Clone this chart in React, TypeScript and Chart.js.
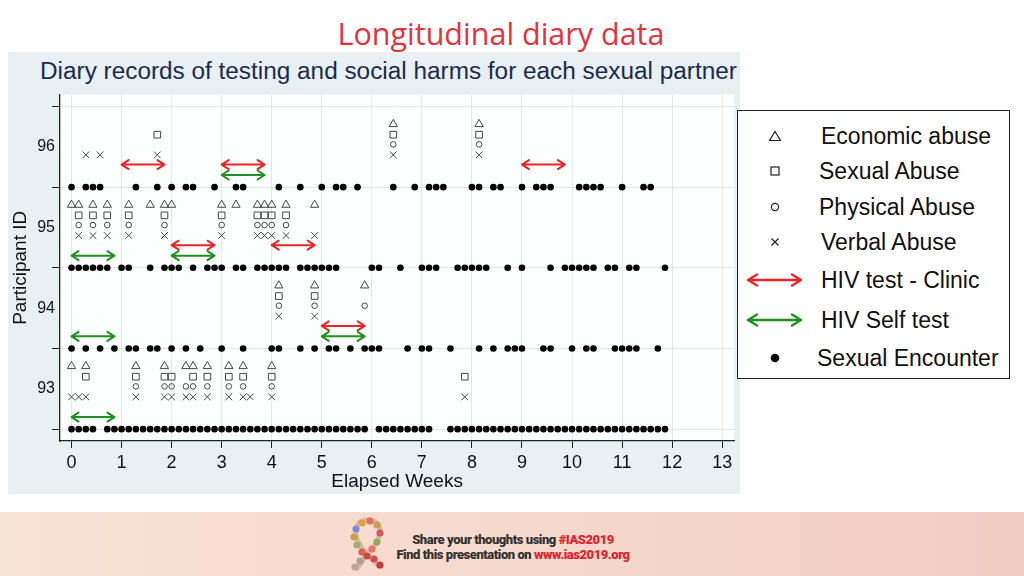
import React, { useEffect, useRef } from 'react';
import { Chart, registerables } from 'chart.js';

Chart.register(...registerables);

// ---------- DATA (days since enrolment; the x axis shows weeks) ----------
const DAYS_PER_WEEK = 7;
const weekTicks = [0, 1, 2, 3, 4, 5, 6, 7, 8, 9, 10, 11, 12, 13];
const participantTicks = [92.5, 93, 93.5, 94, 94.5, 95, 95.5, 96, 96.5];
const participantLabels = ['93', '94', '95', '96'];

// Sexual encounters per participant (day numbers)
const encounters93 = [
  0, 1, 2, 3, 5, 6, 7, 8, 9, 10, 11, 12, 13, 14, 15, 16, 17, 18, 19, 20, 21, 22, 23, 24, 25,
  26, 27, 28, 29, 30, 31, 32, 33, 34, 35, 36, 37, 38, 39, 40, 41, 43, 44, 45, 46, 47, 48, 49,
  50, 53, 54, 55, 56, 57, 58, 59, 60, 61, 62, 63, 64, 65, 66, 67, 68, 69, 70, 71, 72, 73, 74,
  75, 76, 77, 78, 79, 80, 81, 82, 83,
];
const encounters94 = [
  0, 2, 4, 6, 8, 9, 11, 12, 14, 16, 18, 21, 24, 28, 29, 32, 34, 36, 37, 39, 41, 42, 43, 47, 49,
  50, 53, 57, 59, 61, 62, 63, 66, 67, 70, 72, 73, 76, 77, 78, 79, 82,
];
const encounters95 = [
  0, 1, 2, 3, 4, 5, 7, 8, 11, 13, 14, 15, 17, 19, 20, 21, 23, 24, 26, 27, 28, 29, 30, 32, 33,
  34, 35, 36, 37, 42, 43, 46, 49, 50, 51, 54, 55, 56, 57, 58, 61, 63, 67, 69, 70, 71, 72, 73,
  75, 76, 78, 79, 83,
];
const encounters96 = [
  0, 2, 3, 4, 9, 12, 14, 16, 17, 20, 23, 24, 29, 32, 35, 37, 38, 40, 45, 48, 50, 51, 52, 56, 57,
  59, 60, 63, 65, 66, 67, 71, 72, 73, 74, 77, 80, 81,
];

// Social harms: [participant, days]
const economicAbuse: [number, number[]][] = [
  [93, [0, 2, 9, 13, 16, 17, 19, 22, 24, 28]],
  [94, [29, 34, 41]],
  [95, [0, 1, 3, 5, 8, 11, 13, 14, 21, 23, 26, 27, 28, 30, 34]],
  [96, [45, 57]],
];
const sexualAbuse: [number, number[]][] = [
  [93, [2, 9, 13, 14, 17, 19, 22, 24, 28, 55]],
  [94, [29, 34]],
  [95, [1, 3, 5, 8, 13, 21, 26, 27, 28, 30]],
  [96, [12, 45, 57]],
];
const physicalAbuse: [number, number[]][] = [
  [93, [9, 13, 14, 16, 17, 19, 22, 24, 28]],
  [94, [29, 34, 41]],
  [95, [1, 3, 5, 8, 13, 21, 26, 27, 28, 30]],
  [96, [45, 57]],
];
const verbalAbuse: [number, number[]][] = [
  [93, [0, 1, 2, 9, 13, 14, 16, 17, 19, 22, 24, 25, 28, 55]],
  [94, [29, 34]],
  [95, [1, 3, 5, 8, 13, 21, 26, 27, 28, 30, 34]],
  [96, [2, 4, 12, 45, 57]],
];

// HIV testing windows: [participant, startDay, endDay]
const clinicTests: [number, number, number][] = [
  [96, 7, 13],
  [96, 21, 27],
  [96, 63, 69],
  [95, 14, 20],
  [95, 28, 34],
  [94, 35, 41],
];
const selfTests: [number, number, number][] = [
  [96, 21, 27],
  [95, 0, 6],
  [95, 14, 20],
  [94, 0, 6],
  [94, 35, 41],
  [93, 0, 6],
];

// ---------- STYLE ----------
const FONT = '"Liberation Sans", Arial, "DejaVu Sans", sans-serif';
const RED = '#e8262a';
const GREEN = '#1f8f22';
const MARK = '#474747';

const harmPoints = (rows: [number, number[]][], offset: number) =>
  rows.flatMap(([id, days]) => days.map((d) => ({ x: d / DAYS_PER_WEEK, y: id + offset })));

const encounterPoints = (id: number, days: number[]) =>
  days.map((d) => ({ x: d / DAYS_PER_WEEK, y: id - 0.5 }));

const arrowPlugin = {
  id: 'testArrows',
  beforeDraw(chart: any) {
    const { ctx, chartArea } = chart;
    ctx.save();
    ctx.fillStyle = '#fdfefe';
    ctx.fillRect(chartArea.left, chartArea.top, chartArea.right - chartArea.left, chartArea.bottom - chartArea.top);
    ctx.restore();
  },
  afterDatasetsDraw(chart: any) {
    const { ctx } = chart;
    const xs = chart.scales.x;
    const ys = chart.scales.y;
    const draw = (rows: [number, number, number][], offset: number, color: string) => {
      rows.forEach(([id, s, e]) => {
        const x0 = xs.getPixelForValue(s / DAYS_PER_WEEK);
        const x1 = xs.getPixelForValue(e / DAYS_PER_WEEK);
        const py = ys.getPixelForValue(id + offset);
        ctx.save();
        ctx.strokeStyle = color;
        ctx.lineWidth = 2;
        ctx.lineCap = 'round';
        ctx.lineJoin = 'round';
        ctx.beginPath();
        ctx.moveTo(x0, py);
        ctx.lineTo(x1, py);
        ctx.moveTo(x0 + 7, py - 4.5);
        ctx.lineTo(x0, py);
        ctx.lineTo(x0 + 7, py + 4.5);
        ctx.moveTo(x1 - 7, py - 4.5);
        ctx.lineTo(x1, py);
        ctx.lineTo(x1 - 7, py + 4.5);
        ctx.stroke();
        ctx.restore();
      });
    };
    draw(clinicTests, -0.22, RED);
    draw(selfTests, -0.35, GREEN);
  },
};

const isInt = (v: number) => Math.abs(v - Math.round(v)) < 1e-6;

function DiaryChart() {
  const ref = useRef<HTMLCanvasElement>(null);
  useEffect(() => {
    if (!ref.current) return;
    const chart = new Chart(ref.current, {
      type: 'scatter',
      data: {
        datasets: [
          ...[
            [93, encounters93],
            [94, encounters94],
            [95, encounters95],
            [96, encounters96],
          ].map(([id, days]) => ({
            label: 'Sexual Encounter ' + id,
            data: encounterPoints(id as number, days as number[]),
            pointStyle: 'circle' as const,
            pointRadius: 3.3,
            backgroundColor: '#000',
            borderColor: '#000',
            borderWidth: 0,
          })),
          {
            label: 'Economic abuse',
            data: harmPoints(economicAbuse, 0.28),
            pointStyle: 'triangle' as const,
            pointRadius: 4.8,
            backgroundColor: 'rgba(0,0,0,0)',
            borderColor: MARK,
            borderWidth: 1,
          },
          {
            label: 'Sexual Abuse',
            data: harmPoints(sexualAbuse, 0.15),
            pointStyle: 'rect' as const,
            pointRadius: 4.7,
            backgroundColor: 'rgba(0,0,0,0)',
            borderColor: MARK,
            borderWidth: 1,
          },
          {
            label: 'Physical Abuse',
            data: harmPoints(physicalAbuse, 0.03),
            pointStyle: 'circle' as const,
            pointRadius: 2.8,
            backgroundColor: 'rgba(0,0,0,0)',
            borderColor: MARK,
            borderWidth: 1,
          },
          {
            label: 'Verbal Abuse',
            data: harmPoints(verbalAbuse, -0.1),
            pointStyle: 'crossRot' as const,
            pointRadius: 4.7,
            backgroundColor: 'rgba(0,0,0,0)',
            borderColor: MARK,
            borderWidth: 1,
          },
        ],
      },
      options: {
        animation: false,
        responsive: false,
        maintainAspectRatio: false,
        layout: { padding: { top: 2, right: 4, left: 0, bottom: 0 } },
        plugins: { legend: { display: false }, tooltip: { enabled: false }, title: { display: false } },
        scales: {
          x: {
            type: 'linear',
            min: -0.23,
            max: 13.24,
            afterBuildTicks: (s: any) => {
              s.ticks = weekTicks.map((v) => ({ value: v }));
            },
            afterFit: (s: any) => {
              s.height = 53;
            },
            grid: { color: '#e6e6e6', lineWidth: 1, tickLength: 7, tickColor: '#222', drawTicks: true },
            border: { color: '#222', width: 1.3 },
            ticks: {
              color: '#111',
              font: { family: FONT, size: 18 },
              padding: 4,
              maxRotation: 0,
              autoSkip: false,
              callback: (v: any) => String(v),
            },
            title: {
              display: true,
              text: 'Elapsed Weeks',
              color: '#111',
              font: { family: FONT, size: 19 },
              padding: { top: 0, bottom: 1 },
            },
          },
          y: {
            type: 'linear',
            min: 92.353,
            max: 96.647,
            afterBuildTicks: (s: any) => {
              s.ticks = participantTicks.map((v) => ({ value: v }));
            },
            afterFit: (s: any) => {
              s.width = 52;
            },
            grid: {
              color: (c: any) => (c.tick && isInt(c.tick.value) ? 'rgba(0,0,0,0)' : '#e6e6e6'),
              tickColor: (c: any) => (c.tick && isInt(c.tick.value) ? 'rgba(0,0,0,0)' : '#222'),
              tickLength: 8,
              lineWidth: 1,
            },
            border: { color: '#222', width: 1.3 },
            ticks: {
              color: '#111',
              font: { family: FONT, size: 16 },
              padding: -3,
              autoSkip: false,
              callback: (v: any) => {
                const n = Number(v);
                if (!isInt(n)) return '';
                const idx = participantLabels.indexOf(String(Math.round(n)));
                return idx >= 0 ? participantLabels[idx] : '';
              },
            },
            title: {
              display: true,
              text: 'Participant ID',
              color: '#111',
              font: { family: FONT, size: 19 },
              padding: { top: 1, bottom: 0 },
            },
          },
        },
      },
      plugins: [arrowPlugin],
    } as any);
    return () => chart.destroy();
  }, []);
  return <canvas ref={ref} width={732} height={406} style={{ display: 'block' }} />;
}

function Arrow({ color }: { color: string }) {
  return (
    <svg width="60" height="16" viewBox="0 0 60 16" style={{ display: 'block' }}>
      <path
        d="M3 8 L56 8 M12 2.5 L3 8 L12 13.5 M47 2.5 L56 8 L47 13.5"
        stroke={color}
        strokeWidth="2.4"
        fill="none"
        strokeLinecap="round"
        strokeLinejoin="round"
      />
    </svg>
  );
}

function LegendItem({ cy, textX, label, icon }: { cy: number; textX: number; label: string; icon: React.ReactNode }) {
  return (
    <>
      <div style={{ position: 'absolute', left: 0, top: cy - 110 - 12, width: 74, height: 24, display: 'flex', alignItems: 'center', justifyContent: 'center' }}>
        {icon}
      </div>
      <div
        style={{
          position: 'absolute',
          left: textX - 738,
          top: cy - 110 - 14,
          height: 28,
          lineHeight: '28px',
          fontFamily: FONT,
          fontSize: 23,
          color: '#111',
          whiteSpace: 'nowrap',
        }}
      >
        {label}
      </div>
    </>
  );
}

function Ribbon() {
  const dots = [
    [15, 8, '#e0a040'], [23, 6, '#d9735a'], [30, 10, '#c9a24a'], [33, 18, '#d45a5a'], [30, 27, '#8fa960'],
    [25, 34, '#e07a5a'], [20, 41, '#c94848'], [9, 14, '#7a8fd0'], [7, 22, '#c9a04a'], [10, 30, '#a0b070'],
    [15, 37, '#d86050'], [27, 44, '#d84a4a'], [33, 50, '#c83a3a'], [13, 46, '#b0a090'], [8, 52, '#b9a890'],
  ] as const;
  return (
    <svg width="42" height="60" viewBox="0 0 42 60">
      <path d="M20 39 C8 27 6 14 12 8 C16 4 26 4 30 8 C36 14 33 27 20 39 L9 55 M20 39 L34 53" stroke="#d8b8a0" strokeWidth="5" fill="none" />
      {dots.map(([x, y, c], i) => (
        <circle key={i} cx={x} cy={y} r={3.6} fill={c} />
      ))}
    </svg>
  );
}

export default function App() {
  return (
    <div style={{ position: 'fixed', left: 0, top: 0, width: 1024, height: 576, background: '#ffffff', overflow: 'hidden' }}>
      {/* title */}
      <div
        style={{
          position: 'absolute',
          left: 0,
          width: 1002,
          top: 12,
          textAlign: 'center',
          fontFamily: '"Open Sans", "Noto Sans", sans-serif',
          fontSize: 30.5,
          fontWeight: 500,
          lineHeight: '42px',
          color: '#e1343d',
        }}
      >
        Longitudinal diary data
      </div>
      {/* chart image panel */}
      <div style={{ position: 'absolute', left: 8, top: 52, width: 732, height: 442, background: '#e8f0f4' }} />
      <div
        style={{
          position: 'absolute',
          left: 40,
          top: 56,
          height: 30,
          lineHeight: '30px',
          fontFamily: FONT,
          fontSize: 24.35,
          color: '#1d2a4e',
          whiteSpace: 'nowrap',
        }}
      >
        Diary records of testing and social harms for each sexual partner
      </div>
      <div style={{ position: 'absolute', left: 8, top: 88 }}>
        <DiaryChart />
      </div>
      {/* legend */}
      <div
        style={{
          position: 'absolute',
          left: 737,
          top: 110,
          width: 273,
          height: 269,
          boxSizing: 'border-box',
          border: '1.5px solid #222',
          background: '#fff',
        }}
      >
        <LegendItem
          cy={135}
          textX={821}
          label="Economic abuse"
          icon={
            <svg width="14" height="12" viewBox="0 0 14 12">
              <path d="M7 1.5 L12.5 10.5 L1.5 10.5 Z" stroke="#222" strokeWidth="1.2" fill="none" />
            </svg>
          }
        />
        <LegendItem
          cy={170}
          textX={819}
          label="Sexual Abuse"
          icon={
            <svg width="12" height="12" viewBox="0 0 12 12">
              <rect x="2" y="2" width="8" height="8" stroke="#222" strokeWidth="1.2" fill="none" />
            </svg>
          }
        />
        <LegendItem
          cy={205.5}
          textX={819}
          label="Physical Abuse"
          icon={
            <svg width="12" height="12" viewBox="0 0 12 12">
              <circle cx="6" cy="6" r="3.6" stroke="#222" strokeWidth="1.2" fill="none" />
            </svg>
          }
        />
        <LegendItem
          cy={241}
          textX={821}
          label="Verbal Abuse"
          icon={
            <svg width="12" height="12" viewBox="0 0 12 12">
              <path d="M2.5 2.5 L9.5 9.5 M9.5 2.5 L2.5 9.5" stroke="#222" strokeWidth="1.2" fill="none" />
            </svg>
          }
        />
        <LegendItem cy={279} textX={821} label="HIV test - Clinic" icon={<Arrow color={RED} />} />
        <LegendItem cy={318.5} textX={821} label="HIV Self test" icon={<Arrow color={GREEN} />} />
        <LegendItem
          cy={357}
          textX={817}
          label="Sexual Encounter"
          icon={
            <svg width="12" height="12" viewBox="0 0 12 12">
              <circle cx="6" cy="6" r="4.3" fill="#000" />
            </svg>
          }
        />
      </div>
      {/* footer */}
      <div
        style={{
          position: 'absolute',
          left: 0,
          top: 512,
          width: 1024,
          height: 64,
          background: 'linear-gradient(90deg, #f8e2d5 0%, #f6d8cc 55%, #f2cbc3 100%)',
        }}
      />
      <div style={{ position: 'absolute', left: 347, top: 515 }}>
        <Ribbon />
      </div>
      <div
        style={{
          position: 'absolute',
          left: 372,
          width: 282,
          top: 532,
          textAlign: 'center',
          fontFamily: 'Roboto, "Noto Sans", sans-serif',
          fontWeight: 900,
          fontSize: 13,
          lineHeight: '15px',
          letterSpacing: '-0.45px',
          color: '#333',
        }}
      >
        <div>
          Share your thoughts using <span style={{ color: '#e4222e' }}>#IAS2019</span>
        </div>
        <div>
          Find this presentation on <span style={{ color: '#e4222e' }}>www.ias2019.org</span>
        </div>
      </div>
    </div>
  );
}
